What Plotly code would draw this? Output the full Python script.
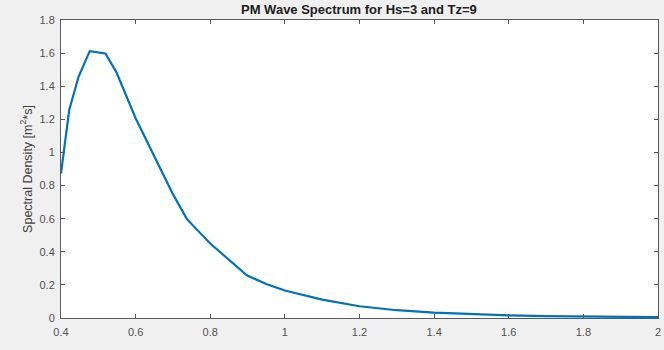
import plotly.graph_objects as go

omega = [0.4, 0.422, 0.447, 0.477, 0.519, 0.548, 0.6, 0.65, 0.7, 0.7375, 0.8, 0.898,
         0.95, 1.0, 1.1, 1.2, 1.3, 1.4, 1.5, 1.6, 1.7, 1.8, 1.9, 2.0]
density = [0.873, 1.256, 1.457, 1.612, 1.598, 1.487, 1.207, 0.973, 0.748, 0.597, 0.45, 0.258,
           0.205, 0.166, 0.111, 0.071, 0.047, 0.032, 0.022, 0.016, 0.011, 0.008, 0.006, 0.005]

x_ticks = [0.4, 0.6, 0.8, 1.0, 1.2, 1.4, 1.6, 1.8, 2.0]
x_ticklabels = ["0.4", "0.6", "0.8", "1", "1.2", "1.4", "1.6", "1.8", "2"]
y_ticks = [0, 0.2, 0.4, 0.6, 0.8, 1.0, 1.2, 1.4, 1.6, 1.8]
y_ticklabels = ["0", "0.2", "0.4", "0.6", "0.8", "1", "1.2", "1.4", "1.6", "1.8"]

fig = go.Figure()
fig.add_trace(go.Scatter(x=omega, y=density, mode="lines",
                         line=dict(color="#0072BD", width=2.2), showlegend=False))

axis_common = dict(showline=True, linecolor="#595959", linewidth=1, mirror="ticks",
                   ticks="inside", ticklen=4, tickcolor="#595959", showgrid=False,
                   zeroline=False, automargin=False,
                   tickfont=dict(family="Liberation Sans, Arial", size=11, color="#505050"))

fig.update_layout(
    width=664, height=350,
    margin=dict(l=61, r=6, t=20, b=32, pad=0, autoexpand=False),
    paper_bgcolor="#f0f0f0", plot_bgcolor="white",
    title=dict(text="<b>PM Wave Spectrum for Hs=3 and Tz=9</b>", x=0.5405, xanchor="center",
               y=0.972, yanchor="middle", automargin=False,
               font=dict(family="Liberation Sans, Arial", size=13, color="#202020")),
    xaxis=dict(range=[0.4, 2.0], tickvals=x_ticks, ticktext=x_ticklabels, ticklabelstandoff=4,
               **axis_common),
    yaxis=dict(range=[0, 1.8], tickvals=y_ticks, ticktext=y_ticklabels, ticklabelstandoff=3,
               title=dict(text="Spectral Density [m<sup>2</sup>*s]", standoff=4,
                          font=dict(family="Liberation Sans, Arial", size=12.5, color="#404040")),
               **axis_common),
)
fig.add_annotation(text="ω", xref="paper", yref="paper", x=0.5, y=-0.095, yanchor="top",
                   showarrow=False, font=dict(family="Liberation Sans, Arial", size=12, color="#404040"))

fig.write_html("out.html", config={"displayModeBar": False},
               post_script="document.body.style.margin='0';document.body.style.background='#f0f0f0';")
